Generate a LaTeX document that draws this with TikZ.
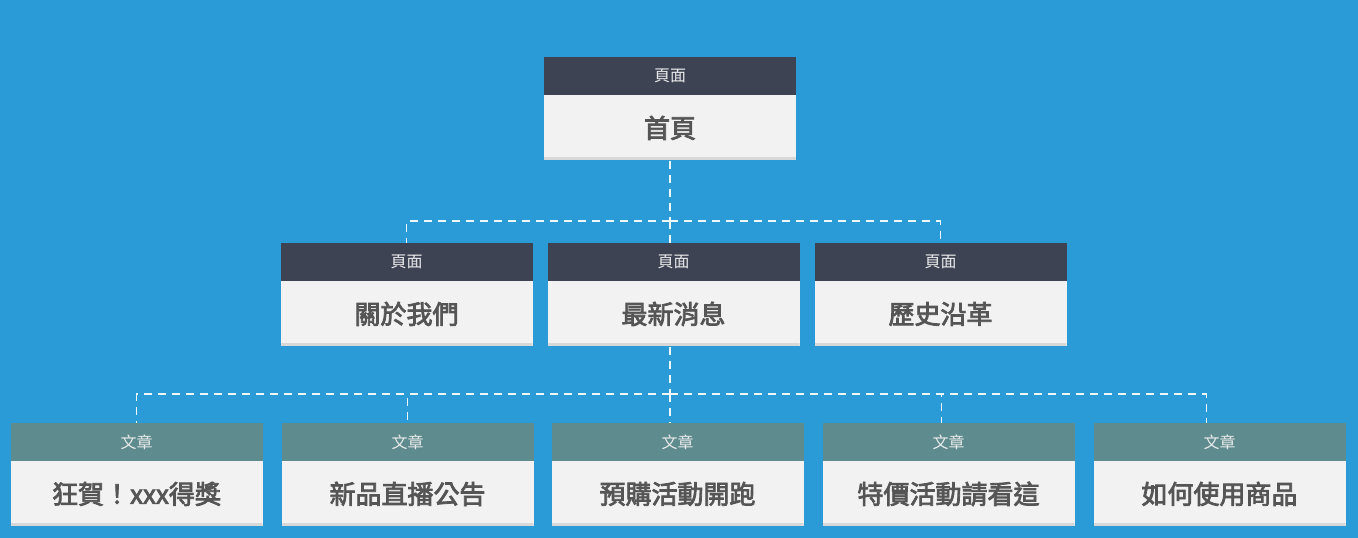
\documentclass[tikz,border=0pt]{standalone}
\usepackage{fontspec}
\setmainfont{Noto Sans CJK TC}
\newfontfamily\titlefont[FakeBold=3]{Noto Sans CJK TC}
\usetikzlibrary{positioning}
\definecolor{sky}{HTML}{2A9BD6}
\definecolor{slate}{HTML}{3D4353}
\definecolor{teal}{HTML}{5E8B8D}
\definecolor{paper}{HTML}{F2F2F2}
\definecolor{rim}{HTML}{D8D8D8}
\definecolor{ink}{HTML}{555555}
\tikzset{
  head/.style={minimum width=252pt,minimum height=38pt,inner sep=0pt,
               text=white!92!black,font=\fontsize{16}{16}\selectfont},
  pagehead/.style={head,fill=slate},
  posthead/.style={head,fill=teal},
  body/.style={minimum width=252pt,minimum height=65pt,inner sep=0pt,fill=paper,
               text=ink,font=\titlefont\fontsize{26}{26}\selectfont,
               path picture={\fill[rim] (path picture bounding box.south west)
                 rectangle ([yshift=3pt]path picture bounding box.south east);}},
  link/.style={draw=white!92!sky,line width=1.5pt,dash pattern=on 8pt off 6pt}
}
\begin{document}
\begin{tikzpicture}
  \fill[sky] (0,0) rectangle (1358pt,-538pt);
  \useasboundingbox (0,0) rectangle (1358pt,-538pt);

  % top level page
  \node[pagehead] (home-t) at (670pt,-76pt) {頁面};
  \node[body,below=0pt of home-t] (home) {首頁};

  % second level pages
  \node[pagehead] (about-t)   at (406.5pt,-262pt) {頁面};
  \node[pagehead] (news-t)    at (673.5pt,-262pt) {頁面};
  \node[pagehead] (history-t) at (940.5pt,-262pt) {頁面};
  \node[body,below=0pt of about-t]   (about)   {關於我們};
  \node[body,below=0pt of news-t]    (news)    {最新消息};
  \node[body,below=0pt of history-t] (history) {歷史沿革};

  % posts
  \node[posthead] (p1-t) at (136.5pt,-442pt)  {文章};
  \node[posthead] (p2-t) at (407.5pt,-442pt)  {文章};
  \node[posthead] (p3-t) at (677.5pt,-442pt)  {文章};
  \node[posthead] (p4-t) at (948.5pt,-442pt)  {文章};
  \node[posthead] (p5-t) at (1219.5pt,-442pt) {文章};
  \node[body,below=0pt of p1-t] (p1) {狂賀！xxx得獎};
  \node[body,below=0pt of p2-t] (p2) {新品直播公告};
  \node[body,below=0pt of p3-t] (p3) {預購活動開跑};
  \node[body,below=0pt of p4-t] (p4) {特價活動請看這};
  \node[body,below=0pt of p5-t] (p5) {如何使用商品};

  % connectors
  \coordinate (hub1) at (670pt,-221pt);
  \draw[link] (home.south) -- (hub1);
  \draw[link] (hub1) -| (about-t.north);
  \draw[link] (hub1) -| (history-t.north);
  \draw[link] (hub1) -- (hub1 |- news-t.north);

  \coordinate (hub2) at (670pt,-394pt);
  \draw[link] (hub2 |- news.south) -- (hub2);
  \draw[link] (hub2) -| (p1-t.north);
  \draw[link] (hub2) -| (p2-t.north);
  \draw[link] (hub2) -- (hub2 |- p3-t.north);
  \draw[link] (hub2) -| ([xshift=-7pt]p4-t.north);
  \draw[link] (hub2) -| ([xshift=-13pt]p5-t.north);
\end{tikzpicture}
\end{document}
